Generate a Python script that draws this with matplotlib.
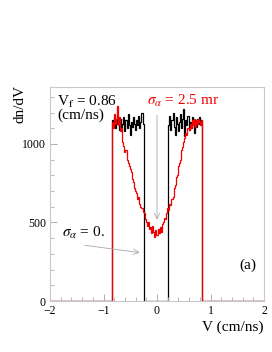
import numpy as np
import matplotlib
matplotlib.use("Agg")
import matplotlib.pyplot as plt
from matplotlib.ticker import MultipleLocator

plt.rcParams['font.family'] = ['Liberation Serif', 'DejaVu Serif']
plt.rcParams['mathtext.fontset'] = 'stix'

# histogram bins, width 0.02 cm/ns starting at -0.85
bin_start = -0.85
bin_width = 0.02

# sigma_alpha = 2.5 mr (red)
red = [1140, 1100, 1190, 1130, 1160, 1240, 1120, 1170, 1080, 1100,
       1010, 990, 950, 960, 900, 880, 860, 840, 820, 780,
       760, 720, 700, 690, 650, 660, 620, 600, 590, 570,
       560, 520, 500, 480, 500, 460, 470, 430, 480, 440,
       410, 450, 420, 460, 430, 470, 440, 490, 500, 530,
       520, 560, 590, 580, 620, 610, 650, 660, 720, 740,
       790, 800, 860, 880, 900, 960, 980, 1010, 1040, 1070,
       1060, 1100, 1090, 1130, 1100, 1150, 1120, 1160, 1110, 1150,
       1130, 1160, 1140, 1120, 1150]

# sigma_alpha = 0 (black), empty between -0.25 and 0.21
black_left = [1150, 1120, 1170, 1100, 1130, 1180, 1140, 1090, 1160, 1110,
              1130, 1170, 1080, 1150, 1100, 1190, 1120, 1060, 1140, 1110,
              1170, 1130, 1090, 1150, 1120, 1180, 1100, 1140, 1200, 1130]
black_gap = [0] * 23
black_right = [1120, 1180, 1090, 1150, 1200, 1110, 1060, 1170, 1130, 1080,
               1140, 1190, 1100, 1160, 1220, 1050, 1150, 1120, 1180, 1090,
               1140, 1100, 1170, 1130, 1070, 1150, 1110, 1160, 1130, 1170,
               1140, 1150]
black = black_left + black_gap + black_right

edges = bin_start + bin_width * np.arange(len(red) + 1)
full_edges = np.concatenate([[-2.0], edges, [2.0]])

fig = plt.figure(figsize=(2.72, 3.52), dpi=100)
ax = fig.add_axes([50/272, 1 - 301/352, 214/272, 214/352])

ax.stairs([0] + black + [0], full_edges, color='black', lw=0.9, baseline=None)
ax.stairs([0] + red + [0], full_edges, color='#f00000', lw=0.9, baseline=None)

ax.set_xlim(-2, 2)
ax.set_ylim(0, 1363)
ax.set_xticks([-2, -1, 0, 1, 2])
ax.set_yticks([0, 500, 1000])
ax.xaxis.set_minor_locator(MultipleLocator(0.2))
ax.yaxis.set_minor_locator(MultipleLocator(100))
ax.tick_params(which='both', direction='in', top=False, right=False,
               colors='#b0b0b0', labelcolor='black', labelsize=8.5, pad=3)
ax.tick_params(which='major', length=5, width=0.7)
ax.tick_params(which='minor', length=3, width=0.6)
for s in ax.spines.values():
    s.set_color('#c8c8c8')
    s.set_linewidth(0.8)

fig.text(20/272, 1 - 104/352, 'dn/dV', rotation=90, ha='center', va='center', fontsize=11)
fig.text(264/272, 1 - 327/352, 'V (cm/ns)', ha='right', va='center', fontsize=11)

ax.text(-1.87, 1245, r'V$_{\rm f}$ = 0.86', fontsize=11, va='baseline')
ax.text(-1.87, 1160, '(cm/ns)', fontsize=11, va='baseline')
ax.text(-0.19, 1252, r'$\sigma_\alpha$ = 2.5 mr', fontsize=11, color='#f00000', va='baseline')
ax.text(-1.78, 408, r'$\sigma_\alpha$ = 0.', fontsize=11, va='baseline')
ax.text(1.7, 225, '(a)', fontsize=11, ha='center', va='center')

ax.annotate('', xy=(0, 500), xytext=(0, 1200),
            arrowprops=dict(arrowstyle='->', color='#a8a8a8', lw=0.6))
ax.annotate('', xy=(-0.27, 306), xytext=(-1.40, 357),
            arrowprops=dict(arrowstyle='->', color='#a8a8a8', lw=0.6))

fig.savefig('out.png', dpi=100)
